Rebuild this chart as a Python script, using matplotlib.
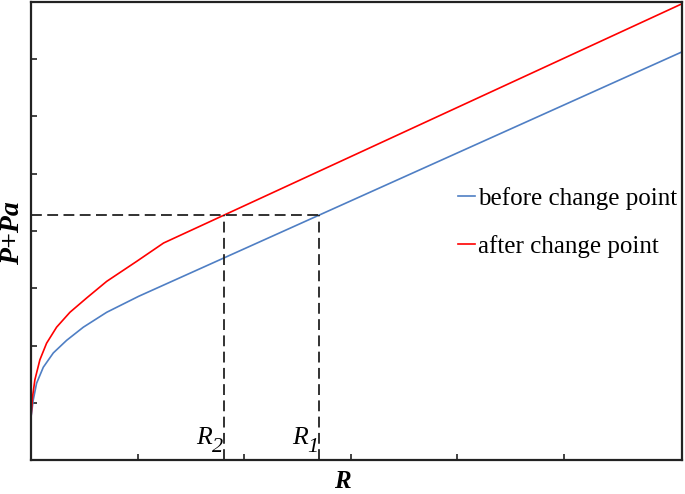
import numpy as np
import matplotlib
matplotlib.use("Agg")
import matplotlib.pyplot as plt

plt.rcParams['font.family'] = ['Liberation Serif', 'DejaVu Serif']

# Data (arbitrary units)
before_x = [0.0, 0.021, 0.052, 0.115, 0.209, 0.334, 0.491, 0.710, 1.011, 6.10]
before_y = [0.75, 1.05, 1.34, 1.62, 1.87, 2.09, 2.32, 2.58, 2.86, 7.12]
after_x = [0.0, 0.014, 0.036, 0.083, 0.146, 0.240, 0.365, 0.522, 0.710, 0.992, 1.244, 6.10]
after_y = [0.75, 1.10, 1.40, 1.75, 2.04, 2.32, 2.58, 2.83, 3.12, 3.47, 3.79, 7.96]
level = 4.28  # common P+Pa level
labels = ["before change point", "after change point"]
x_ticks = [1, 2, 3, 4, 5]
y_ticks = [1, 2, 3, 4, 5, 6, 7]

r1 = np.interp(level, before_y, before_x)
r2 = np.interp(level, after_y, after_x)

fig = plt.figure(figsize=(6.85, 4.94), dpi=100)
ax = fig.add_axes([0.0453, 0.0688, 0.9503, 0.9272])

ax.plot(before_x, before_y, color='#4f7fc4', lw=1.2, label=labels[0])
ax.plot(after_x, after_y, color='#ff0000', lw=1.2, label=labels[1])

dash = dict(color='#222222', lw=1.3, ls=(0, (6, 3)))
ax.plot([0, r1], [level, level], **dash)
ax.plot([r2, r2], [0, level], **dash)
ax.plot([r1, r1], [0, level], **dash)

ax.set_xlim(0, 6.11)
ax.set_ylim(0, 8)
ax.set_xticks(x_ticks)
ax.set_yticks(y_ticks)
ax.set_xticklabels([])
ax.set_yticklabels([])
ax.tick_params(direction='in', length=4, width=1.2, color='#222222')
for s in ax.spines.values():
    s.set_linewidth(1.6)
    s.set_color('#222222')

px = 0.72  # points per pixel at 100 dpi
for r, sub in [(r2, '2'), (r1, '1')]:
    ax.annotate('R', xy=(r, 0), xycoords='data', xytext=(-12 * px, 16 * px),
                textcoords='offset points', ha='right', va='baseline',
                fontsize=18.5, fontstyle='italic')
    ax.annotate(sub, xy=(r, 0), xycoords='data', xytext=(-12 * px, 8 * px),
                textcoords='offset points', ha='left', va='baseline',
                fontsize=16, fontstyle='italic')

ax.text(0.478, -0.0731, 'R', transform=ax.transAxes, ha='center', va='bottom',
        fontsize=18, fontweight='bold', fontstyle='italic')
ax.text(-0.0469, 0.496, 'P+Pa', transform=ax.transAxes, ha='left', va='center',
        rotation=90, fontsize=20, fontweight='bold', fontstyle='italic')

ax.legend(loc='center left', bbox_to_anchor=(0.622, 0.518), frameon=False,
          fontsize=18, handlelength=0.68, handletextpad=0.12, labelspacing=1.0)

fig.savefig('out.png', dpi=100)
